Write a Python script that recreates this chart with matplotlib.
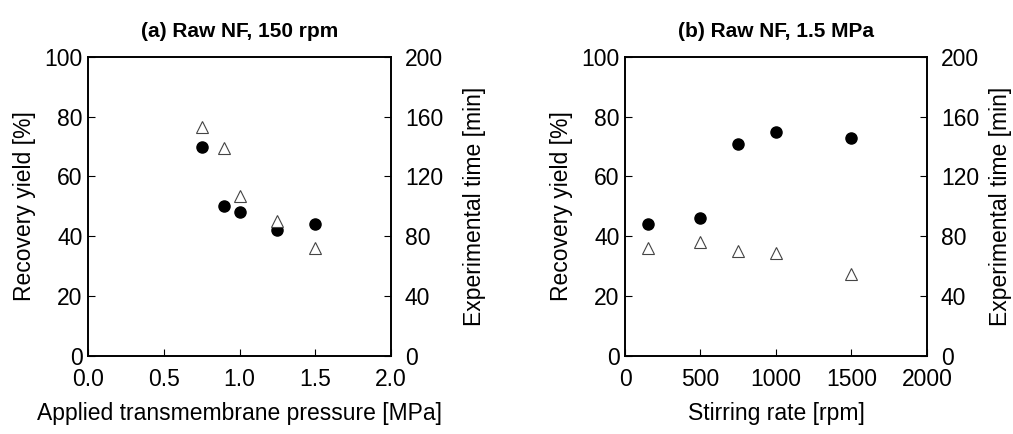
import matplotlib.pyplot as plt

plt.rcParams['font.family'] = ['Liberation Sans', 'DejaVu Sans']

# (a) pressure series
pressure = [0.75, 0.9, 1.0, 1.25, 1.5]
yield_a = [70, 50, 48, 42, 44]
time_a = [153, 139, 107, 90, 72]

# (b) stirring series
stirring = [150, 500, 750, 1000, 1500]
yield_b = [44, 46, 71, 75, 73]
time_b = [72, 76, 70, 69, 55]

fig = plt.figure(figsize=(10.13, 4.34), dpi=100)


def make_panel(rect, x, y, t, xlim, xticks, xticklabels, xlabel, title, rpad):
    ax = fig.add_axes(rect)
    ax2 = ax.twinx()
    ax.plot(x, y, 'o', color='black', markersize=8, zorder=3)
    ax2.plot(x, t, '^', markerfacecolor='white', markeredgecolor='#444444',
             markeredgewidth=0.8, markersize=9)
    ax.set_xlim(*xlim)
    ax.set_xticks(xticks)
    ax.set_xticklabels(xticklabels)
    ax.set_ylim(0, 100)
    ax.set_yticks([0, 20, 40, 60, 80, 100])
    ax2.set_ylim(0, 200)
    ax2.set_yticks([0, 40, 80, 120, 160, 200])
    ax.tick_params(axis='x', direction='in', length=5, labelsize=16.5, pad=9, top=False)
    ax.tick_params(axis='y', direction='in', length=5, labelsize=16.5, pad=4)
    ax2.tick_params(axis='y', direction='in', length=5, labelsize=16.5, pad=10)
    ax.set_xlabel(xlabel, fontsize=16.5, labelpad=8)
    ax.set_ylabel('Recovery yield [%]', fontsize=16.5, labelpad=6)
    ax2.set_ylabel('Experimental time [min]', fontsize=16.5, labelpad=rpad)
    ax.set_title(title, fontsize=15, weight='bold', pad=14)
    for a in (ax, ax2):
        for s in a.spines.values():
            s.set_linewidth(1.2)
    return ax


make_panel([0.087, 0.18, 0.299, 0.689], pressure, yield_a, time_a, (0, 2),
           [0, 0.5, 1.0, 1.5, 2.0], ['0.0', '0.5', '1.0', '1.5', '2.0'],
           'Applied transmembrane pressure [MPa]', '(a) Raw NF, 150 rpm', 14)
make_panel([0.617, 0.18, 0.298, 0.689], stirring, yield_b, time_b, (0, 2000),
           [0, 500, 1000, 1500, 2000], ['0', '500', '1000', '1500', '2000'],
           'Stirring rate [rpm]', '(b) Raw NF, 1.5 MPa', 7)

fig.savefig('out.png', dpi=100)
